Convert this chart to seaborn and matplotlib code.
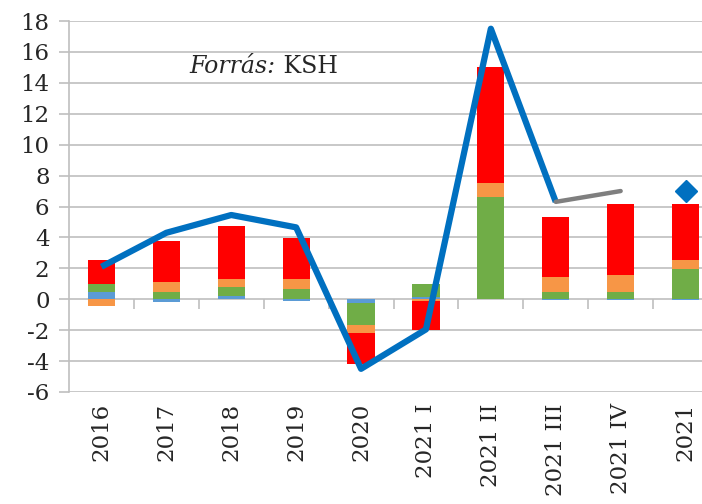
import numpy as np
import pandas as pd
import matplotlib
matplotlib.use("Agg")
import matplotlib.pyplot as plt
import seaborn as sns

categories = ["2016", "2017", "2018", "2019", "2020", "2021 I", "2021 II", "2021 III", "2021 IV", "2021"]
blue_vals = [0.50, -0.20, 0.20, -0.12, -0.27, 0.17, 0.0, -0.05, -0.05, -0.05]
green_vals = [0.50, 0.50, 0.60, 0.65, -1.42, 0.82, 6.60, 0.50, 0.50, 1.95]
orange_vals = [-0.45, 0.62, 0.48, 0.65, -0.47, -0.13, 0.95, 0.95, 1.10, 0.60]
red_vals = [1.55, 2.65, 3.45, 2.65, -2.03, -1.86, 7.50, 3.90, 4.55, 3.60]
line_vals = [2.1, 4.3, 5.45, 4.65, -4.5, -1.95, 17.5, 6.3]
gray_cats = ["2021 III", "2021 IV"]
gray_vals = [6.3, 7.0]
diamond_cat = "2021"
diamond_val = 7.0
yticks = list(range(-6, 19, 2))

sns.set_theme(style="white")
plt.rcParams["font.family"] = ["DejaVu Serif"]

fig = plt.figure(figsize=(7.02, 5.04), dpi=100)
ax = fig.add_axes([69/702, 112/504, 649/702, 371/504])

series = [("blue", blue_vals, "#5B9BD5"), ("green", green_vals, "#70AD47"),
          ("orange", orange_vals, "#F79646"), ("red", red_vals, "#FF0000")]
pos_base = np.zeros(len(categories))
neg_base = np.zeros(len(categories))
for name, vals, col in series:
    v = np.array(vals, dtype=float)
    bottoms = np.where(v >= 0, pos_base, neg_base)
    df = pd.DataFrame({"cat": categories, "val": v})
    sns.barplot(data=df, x="cat", y="val", order=categories, color=col,
                saturation=1, errorbar=None, width=0.42, bottom=bottoms,
                linewidth=0, ax=ax)
    pos_base = pos_base + np.where(v > 0, v, 0)
    neg_base = neg_base + np.where(v < 0, v, 0)

idx = {c: i for i, c in enumerate(categories)}
line_x = [idx[c] for c in categories[:len(line_vals)]]
sns.lineplot(x=line_x, y=line_vals, color="#0070C0", linewidth=4.5, ax=ax,
             solid_joinstyle="round", solid_capstyle="butt")
sns.lineplot(x=[idx[c] for c in gray_cats], y=gray_vals, color="#7F7F7F",
             linewidth=3.2, ax=ax, solid_capstyle="round")
ax.plot([idx[diamond_cat]], [diamond_val], marker="D", color="#0070C0",
        markersize=11, linestyle="none")

ax.set_xlim(-0.5, len(categories) - 0.5)
ax.set_ylim(-6, 18)
ax.set_yticks(yticks)
ax.set_yticklabels([str(t) for t in yticks], fontsize=16.5)
ax.yaxis.grid(True, color="#BFBFBF", linewidth=1.2)
ax.set_axisbelow(True)
for s in ["top", "right", "bottom"]:
    ax.spines[s].set_visible(False)
ax.spines["left"].set_color("#BFBFBF")
ax.spines["left"].set_linewidth(1.2)
ax.tick_params(axis="y", left=True, direction="out", length=7, color="#BFBFBF", width=1.2, pad=7)
ax.set_xticks(range(len(categories)))
ax.set_xticklabels(categories, rotation=90, fontsize=16.5, va="top", ha="center")
ax.tick_params(axis="x", bottom=False, length=0, pad=8)
ax.set_xlabel("")
ax.set_ylabel("")

sec = ax.secondary_xaxis(6/24)
sec.set_xticks(np.arange(0.5, len(categories) - 0.5, 1.0))
sec.set_xticklabels([])
sec.tick_params(axis="x", bottom=True, direction="out", length=7, color="#BFBFBF", width=1.2)
sec.spines["bottom"].set_visible(False)
sec.spines["top"].set_visible(False)

t1 = ax.text(0.186, 0.859, "Forrás:", transform=ax.transAxes, fontsize=17,
             style="italic", va="baseline", ha="left")
ax.annotate(" KSH", xy=(1, 0), xycoords=t1, va="bottom", ha="left", fontsize=17)

fig.savefig("out.png", dpi=100)
